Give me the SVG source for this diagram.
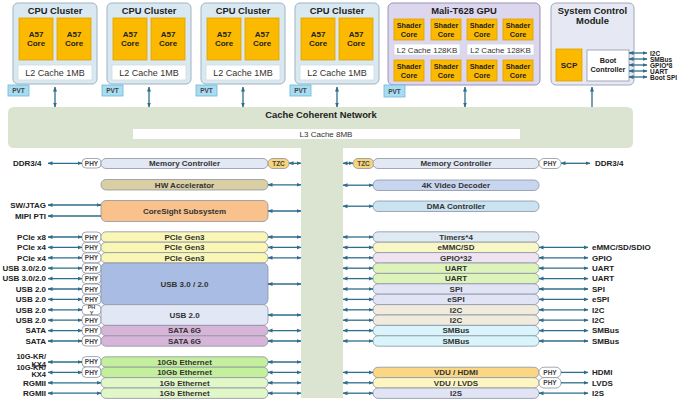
<svg xmlns="http://www.w3.org/2000/svg" width="680" height="401" viewBox="0 0 680 401">
<defs>
<marker id="ah" viewBox="0 0 10 10" refX="9" refY="5" markerWidth="5" markerHeight="5" orient="auto-start-reverse" markerUnits="userSpaceOnUse"><path d="M0,1 L10,5 L0,9 z" fill="#2f6d8a"/></marker>
<style>
text{font-family:"Liberation Sans",Arial,sans-serif;fill:#222}
.t{font-weight:bold;font-size:9.4px;text-anchor:middle}
.c{font-weight:bold;font-size:8px;text-anchor:middle}
.s{font-weight:bold;font-size:7.3px;text-anchor:middle}
.l2{font-size:9px;text-anchor:middle;fill:#333}
.l2g{font-size:8px;text-anchor:middle;fill:#333}
.lbl{font-weight:bold;font-size:8px}
.kr{font-size:7.5px}
.sl{font-weight:bold;font-size:6.5px}
.le{text-anchor:end}
.bt{font-weight:bold;font-size:8px;text-anchor:middle;fill:#333}
.pt{font-weight:bold;font-size:6.5px;text-anchor:middle;fill:#444}
.clu{fill:#dae9f1;stroke:#9fb3c0;stroke-width:1}
.core{fill:#fbba00;stroke:#dca000;stroke-width:0.8}
.cache{fill:#fff;stroke:#d0dbe2;stroke-width:0.8}
.pvt{fill:#a8dcf2;stroke:#6cb6d6;stroke-width:0.8}
.box{stroke:#8c93a3;stroke-width:0.8}
.phy{fill:#fff;stroke:#8c93a3;stroke-width:0.8}
.ar{stroke:#2f6d8a;stroke-width:1.3;fill:none;marker-start:url(#ah);marker-end:url(#ah)}
.ar1{stroke:#2f6d8a;stroke-width:1.3;fill:none;marker-end:url(#ah)}
</style>
</defs>
<rect width="680" height="401" fill="#fff"/>

<!-- Cache coherent network -->
<g id="ccn">
<path d="M14,107 H627 Q633,107 633,113 V142 Q633,148 627,148 H343 V398 H301 V148 H14 Q8,148 8,142 V113 Q8,107 14,107 Z" fill="#dbe4d1"/>
<text class="t" x="321" y="117.5">Cache Coherent Network</text>
<rect x="133" y="129" width="387" height="10" fill="#fff"/>
<text class="l2g" x="326" y="137">L3 Cache 8MB</text>
</g>

<!-- CPU clusters -->
<g id="cpu1">
<rect class="clu" x="13" y="3" width="84" height="81" rx="5"/>
<text class="t" x="55" y="14">CPU Cluster</text>
<rect class="core" x="19" y="18" width="34" height="42"/><text class="c" x="36" y="37">A57</text><text class="c" x="36" y="46">Core</text>
<rect class="core" x="57" y="18" width="34" height="42"/><text class="c" x="74" y="37">A57</text><text class="c" x="74" y="46">Core</text>
<rect class="cache" x="18" y="65" width="74" height="15"/><text class="l2" x="55" y="75.5">L2 Cache 1MB</text>
<rect class="pvt" x="8" y="85" width="21" height="11"/><text class="pt" x="18.5" y="93">PVT</text>
</g>
<g id="cpu2">
<rect class="clu" x="107" y="3" width="84" height="81" rx="5"/>
<text class="t" x="149" y="14">CPU Cluster</text>
<rect class="core" x="113" y="18" width="34" height="42"/><text class="c" x="130" y="37">A57</text><text class="c" x="130" y="46">Core</text>
<rect class="core" x="151" y="18" width="34" height="42"/><text class="c" x="168" y="37">A57</text><text class="c" x="168" y="46">Core</text>
<rect class="cache" x="112" y="65" width="74" height="15"/><text class="l2" x="149" y="75.5">L2 Cache 1MB</text>
<rect class="pvt" x="102" y="85" width="21" height="11"/><text class="pt" x="112.5" y="93">PVT</text>
</g>
<g id="cpu3">
<rect class="clu" x="201" y="3" width="84" height="81" rx="5"/>
<text class="t" x="243" y="14">CPU Cluster</text>
<rect class="core" x="207" y="18" width="34" height="42"/><text class="c" x="224" y="37">A57</text><text class="c" x="224" y="46">Core</text>
<rect class="core" x="245" y="18" width="34" height="42"/><text class="c" x="262" y="37">A57</text><text class="c" x="262" y="46">Core</text>
<rect class="cache" x="206" y="65" width="74" height="15"/><text class="l2" x="243" y="75.5">L2 Cache 1MB</text>
<rect class="pvt" x="196" y="85" width="21" height="11"/><text class="pt" x="206.5" y="93">PVT</text>
</g>
<g id="cpu4">
<rect class="clu" x="295" y="3" width="84" height="81" rx="5"/>
<text class="t" x="337" y="14">CPU Cluster</text>
<rect class="core" x="301" y="18" width="34" height="42"/><text class="c" x="318" y="37">A57</text><text class="c" x="318" y="46">Core</text>
<rect class="core" x="339" y="18" width="34" height="42"/><text class="c" x="356" y="37">A57</text><text class="c" x="356" y="46">Core</text>
<rect class="cache" x="300" y="65" width="74" height="15"/><text class="l2" x="337" y="75.5">L2 Cache 1MB</text>
<rect class="pvt" x="290" y="85" width="21" height="11"/><text class="pt" x="300.5" y="93">PVT</text>
</g>

<!-- GPU -->
<g id="gpu">
<rect x="388" y="3" width="152" height="82" rx="5" fill="#dcd6ee" stroke="#9a93b5" stroke-width="1"/>
<text class="t" x="464" y="14">Mali-T628 GPU</text>
<rect class="core" x="394" y="19" width="30" height="21"/><text class="s" x="409" y="28">Shader</text><text class="s" x="409" y="36.5">Core</text>
<rect class="core" x="431" y="19" width="30" height="21"/><text class="s" x="446" y="28">Shader</text><text class="s" x="446" y="36.5">Core</text>
<rect class="core" x="467" y="19" width="30" height="21"/><text class="s" x="482" y="28">Shader</text><text class="s" x="482" y="36.5">Core</text>
<rect class="core" x="503" y="19" width="30" height="21"/><text class="s" x="518" y="28">Shader</text><text class="s" x="518" y="36.5">Core</text>
<rect class="cache" x="394" y="44" width="66" height="11"/><text class="l2g" x="427" y="52.5">L2 Cache 128KB</text>
<rect class="cache" x="467" y="44" width="67" height="11"/><text class="l2g" x="500.5" y="52.5">L2 Cache 128KB</text>
<rect class="core" x="394" y="60" width="30" height="21"/><text class="s" x="409" y="69">Shader</text><text class="s" x="409" y="77.5">Core</text>
<rect class="core" x="431" y="60" width="30" height="21"/><text class="s" x="446" y="69">Shader</text><text class="s" x="446" y="77.5">Core</text>
<rect class="core" x="467" y="60" width="30" height="21"/><text class="s" x="482" y="69">Shader</text><text class="s" x="482" y="77.5">Core</text>
<rect class="core" x="503" y="60" width="30" height="21"/><text class="s" x="518" y="69">Shader</text><text class="s" x="518" y="77.5">Core</text>
<rect class="pvt" x="384" y="85" width="21" height="12"/><text class="pt" x="394.5" y="93.5">PVT</text>
</g>

<!-- System control module -->
<g id="scm">
<rect x="551" y="3" width="83" height="82" rx="5" fill="#e6e9f3" stroke="#a3a8bb" stroke-width="1"/>
<text class="t" x="592.5" y="13.5">System Control</text>
<text class="t" x="592.5" y="23.5">Module</text>
<rect class="core" x="556" y="49" width="26" height="32"/><text class="c" x="569" y="68">SCP</text>
<rect x="587" y="50" width="42" height="31" fill="#fff" stroke="#8c93a3" stroke-width="0.8"/>
<text class="s" x="608" y="63">Boot</text><text class="s" x="608" y="71.5">Controller</text>
<text class="sl" x="650" y="55.5">I2C</text>
<text class="sl" x="650" y="61.5">SMBus</text>
<text class="sl" x="650" y="67.5">GPIO*8</text>
<text class="sl" x="650" y="73.5">UART</text>
<text class="sl" x="650" y="79.5">Boot SPI</text>
</g>

<!-- Left side blocks -->
<g id="left-mc">
<text class="lbl" x="13" y="166">DDR3/4</text>
<rect class="phy" x="82" y="158.5" width="19" height="9.5" rx="4"/><text class="pt" x="91.5" y="165.5">PHY</text>
<rect class="box" x="101" y="158.5" width="167" height="10" rx="5" fill="#e3e8f5"/><text class="bt" x="184.5" y="166.2">Memory Controller</text>
<rect class="box" x="268" y="158.5" width="21" height="10" rx="5" fill="#f8d47a"/><text class="pt" x="278.5" y="166">TZC</text>
</g>
<g id="hwacc">
<rect class="box" x="101" y="179.5" width="167" height="10.5" rx="5" fill="#d9cfa2"/><text class="bt" x="184.5" y="187.7">HW Accelerator</text>
</g>
<g id="coresight">
<text class="lbl le" x="46" y="208">SW/JTAG</text>
<text class="lbl le" x="46" y="219">MIPI PTI</text>
<rect class="box" x="101" y="200.5" width="167" height="21" rx="5" fill="#f9c28d"/><text class="bt" x="184.5" y="213.7">CoreSight Subsystem</text>
</g>
<g id="pcie">
<text class="lbl le" x="46" y="239.8">PCIe x8</text>
<text class="lbl le" x="46" y="250.2">PCIe x4</text>
<text class="lbl le" x="46" y="260.6">PCIe x4</text>
<rect class="phy" x="82" y="232" width="19" height="10" rx="4"/><text class="pt" x="91.5" y="239.5">PHY</text>
<rect class="phy" x="82" y="242.4" width="19" height="10" rx="4"/><text class="pt" x="91.5" y="249.9">PHY</text>
<rect class="phy" x="82" y="252.8" width="19" height="10" rx="4"/><text class="pt" x="91.5" y="260.3">PHY</text>
<rect class="box" x="101" y="231.8" width="167" height="10.4" rx="5" fill="#f9f6b6"/><text class="bt" x="184.5" y="239.8">PCIe Gen3</text>
<rect class="box" x="101" y="242.2" width="167" height="10.4" rx="5" fill="#f9f6b6"/><text class="bt" x="184.5" y="250.2">PCIe Gen3</text>
<rect class="box" x="101" y="252.6" width="167" height="10.4" rx="5" fill="#f9f6b6"/><text class="bt" x="184.5" y="260.6">PCIe Gen3</text>
</g>
<g id="usb">
<text class="lbl le" x="46" y="271">USB 3.0/2.0</text>
<text class="lbl le" x="46" y="281.4">USB 3.0/2.0</text>
<text class="lbl le" x="46" y="291.8">USB 2.0</text>
<text class="lbl le" x="46" y="302.2">USB 2.0</text>
<text class="lbl le" x="46" y="312.6">USB 2.0</text>
<text class="lbl le" x="46" y="323">USB 2.0</text>
<rect class="phy" x="82" y="263.2" width="19" height="10" rx="4"/><text class="pt" x="91.5" y="270.7">PHY</text>
<rect class="phy" x="82" y="273.6" width="19" height="10" rx="4"/><text class="pt" x="91.5" y="281.1">PHY</text>
<rect class="phy" x="82" y="284" width="19" height="10" rx="4"/><text class="pt" x="91.5" y="291.5">PHY</text>
<rect class="phy" x="82" y="294.4" width="19" height="10" rx="4"/><text class="pt" x="91.5" y="301.9">PHY</text>
<rect class="phy" x="82" y="304.8" width="19" height="10" rx="4"/><text class="pt" x="91.5" y="309.3" style="font-size:5.5px">PH</text><text class="pt" x="91.5" y="314.5" style="font-size:5.5px">Y</text>
<rect class="phy" x="82" y="315.2" width="19" height="10" rx="4"/><text class="pt" x="91.5" y="322.7">PHY</text>
<rect class="box" x="101" y="263" width="167" height="41.6" rx="5" fill="#a9bce4"/><text class="bt" x="184.5" y="286.8">USB 3.0 / 2.0</text>
<rect class="box" x="101" y="304.6" width="167" height="20.8" rx="5" fill="#e2e7f5"/><text class="bt" x="184.5" y="317.8">USB 2.0</text>
</g>
<g id="sata">
<text class="lbl le" x="46" y="333.4">SATA</text>
<text class="lbl le" x="46" y="343.8">SATA</text>
<rect class="phy" x="82" y="325.6" width="19" height="10" rx="4"/><text class="pt" x="91.5" y="333.1">PHY</text>
<rect class="phy" x="82" y="336" width="19" height="10" rx="4"/><text class="pt" x="91.5" y="343.5">PHY</text>
<rect class="box" x="101" y="325.4" width="167" height="10.4" rx="5" fill="#d7b5d9"/><text class="bt" x="184.5" y="333.4">SATA 6G</text>
<rect class="box" x="101" y="335.8" width="167" height="10.4" rx="5" fill="#d7b5d9"/><text class="bt" x="184.5" y="343.8">SATA 6G</text>
</g>
<g id="ethernet">
<text class="lbl le kr" x="46" y="359.3">10G-KR/</text>
<text class="lbl le kr" x="46" y="367">KX4</text>
<text class="lbl le kr" x="46" y="369.5">10G-KR/</text>
<text class="lbl le kr" x="46" y="377.3">KX4</text>
<text class="lbl le" x="46" y="385.6">RGMII</text>
<text class="lbl le" x="46" y="396">RGMII</text>
<rect class="phy" x="82" y="356.6" width="19" height="10.4" rx="4"/><text class="pt" x="91.5" y="364.3">PHY</text>
<rect class="phy" x="82" y="367" width="19" height="10.4" rx="4"/><text class="pt" x="91.5" y="374.7">PHY</text>
<rect class="box" x="101" y="356.8" width="167" height="10.4" rx="5" fill="#c4ef9c"/><text class="bt" x="184.5" y="364.8">10Gb Ethernet</text>
<rect class="box" x="101" y="367.2" width="167" height="10.4" rx="5" fill="#c4ef9c"/><text class="bt" x="184.5" y="375.2">10Gb Ethernet</text>
<rect class="box" x="101" y="377.6" width="167" height="10.4" rx="5" fill="#e2f7c8"/><text class="bt" x="184.5" y="385.6">1Gb Ethernet</text>
<rect class="box" x="101" y="388" width="167" height="10.4" rx="5" fill="#e2f7c8"/><text class="bt" x="184.5" y="396">1Gb Ethernet</text>
</g>

<!-- Right side blocks -->
<g id="right-mc">
<rect class="box" x="353" y="158.5" width="21" height="10" rx="5" fill="#f8d47a"/><text class="pt" x="363.5" y="166">TZC</text>
<rect class="box" x="373" y="158.5" width="166" height="10" rx="5" fill="#e3e8f5"/><text class="bt" x="456" y="166.2">Memory Controller</text>
<rect class="phy" x="539" y="158.5" width="22" height="10" rx="5"/><text class="pt" x="550" y="166">PHY</text>
<text class="lbl" x="595" y="166">DDR3/4</text>
</g>
<g id="video">
<rect class="box" x="373" y="180" width="166" height="10.5" rx="5" fill="#c8d5ef"/><text class="bt" x="456" y="188.2">4K Video Decoder</text>
</g>
<g id="dma">
<rect class="box" x="373" y="201" width="166" height="10.5" rx="5" fill="#c9e3f0"/><text class="bt" x="456" y="209.2">DMA Controller</text>
</g>
<g id="periph">
<rect class="box" x="373" y="231.8" width="166" height="10.4" rx="5" fill="#dfeaf4"/><text class="bt" x="456" y="239.8">Timers*4</text>
<rect class="box" x="373" y="242.2" width="166" height="10.4" rx="5" fill="#f8f7c6"/><text class="bt" x="456" y="250.2">eMMC/SD</text>
<rect class="box" x="373" y="252.6" width="166" height="10.4" rx="5" fill="#efe3f1"/><text class="bt" x="456" y="260.6">GPIO*32</text>
<rect class="box" x="373" y="263" width="166" height="10.4" rx="5" fill="#ddf3ba"/><text class="bt" x="456" y="271">UART</text>
<rect class="box" x="373" y="273.4" width="166" height="10.4" rx="5" fill="#ddf3ba"/><text class="bt" x="456" y="281.4">UART</text>
<rect class="box" x="373" y="283.8" width="166" height="10.4" rx="5" fill="#e0e4f4"/><text class="bt" x="456" y="291.8">SPI</text>
<rect class="box" x="373" y="294.2" width="166" height="10.4" rx="5" fill="#e0e4f4"/><text class="bt" x="456" y="302.2">eSPI</text>
<rect class="box" x="373" y="304.6" width="166" height="10.4" rx="5" fill="#f0ebdc"/><text class="bt" x="456" y="312.6">I2C</text>
<rect class="box" x="373" y="315" width="166" height="10.4" rx="5" fill="#f0ebdc"/><text class="bt" x="456" y="323">I2C</text>
<rect class="box" x="373" y="325.4" width="166" height="10.4" rx="5" fill="#d9f5fb"/><text class="bt" x="456" y="333.4">SMBus</text>
<rect class="box" x="373" y="335.8" width="166" height="10.4" rx="5" fill="#d9f5fb"/><text class="bt" x="456" y="343.8">SMBus</text>
<text class="lbl" x="592" y="250.2">eMMC/SD/SDIO</text>
<text class="lbl" x="592" y="260.6">GPIO</text>
<text class="lbl" x="592" y="271">UART</text>
<text class="lbl" x="592" y="281.4">UART</text>
<text class="lbl" x="592" y="291.8">SPI</text>
<text class="lbl" x="592" y="302.2">eSPI</text>
<text class="lbl" x="592" y="312.6">I2C</text>
<text class="lbl" x="592" y="323">I2C</text>
<text class="lbl" x="592" y="333.4">SMBus</text>
<text class="lbl" x="592" y="343.8">SMBus</text>
</g>
<g id="display">
<rect class="box" x="373" y="367.2" width="166" height="10.4" rx="5" fill="#fbd784"/><text class="bt" x="456" y="375.2">VDU / HDMI</text>
<rect class="box" x="373" y="377.6" width="166" height="10.4" rx="5" fill="#fdf6c2"/><text class="bt" x="456" y="385.6">VDU / LVDS</text>
<rect class="box" x="373" y="388" width="166" height="10.4" rx="5" fill="#e0e4f4"/><text class="bt" x="456" y="396">I2S</text>
<rect class="phy" x="539" y="367.2" width="22" height="10.4" rx="5"/><text class="pt" x="550" y="374.9">PHY</text>
<rect class="phy" x="539" y="377.6" width="22" height="10.4" rx="5"/><text class="pt" x="550" y="385.3">PHY</text>
<text class="lbl" x="592" y="375.2">HDMI</text>
<text class="lbl" x="592" y="385.6">LVDS</text>
<text class="lbl" x="592" y="396">I2S</text>
</g>

<!-- Connectors -->
<g id="connectors">
<line class="ar" x1="55" y1="87" x2="55" y2="107"/>
<line class="ar" x1="149" y1="87" x2="149" y2="107"/>
<line class="ar" x1="243" y1="87" x2="243" y2="107"/>
<line class="ar" x1="337" y1="87" x2="337" y2="107"/>
<line class="ar" x1="465" y1="87" x2="465" y2="107"/>
<line class="ar1" x1="592" y1="107" x2="592" y2="87"/>
<line class="ar" x1="629" y1="53" x2="647" y2="53"/>
<line class="ar" x1="629" y1="59" x2="647" y2="59"/>
<line class="ar" x1="629" y1="65" x2="647" y2="65"/>
<line class="ar" x1="629" y1="71" x2="647" y2="71"/>
<line class="ar" x1="629" y1="77" x2="647" y2="77"/>
<!-- left -->
<line class="ar" x1="48" y1="163.3" x2="82" y2="163.3"/>
<line class="ar" x1="289" y1="163.3" x2="301" y2="163.3"/>
<line class="ar" x1="268" y1="184.8" x2="301" y2="184.8"/>
<line class="ar" x1="48" y1="205" x2="101" y2="205"/>
<line class="ar1" x1="101" y1="216" x2="48" y2="216"/>
<line class="ar" x1="268" y1="211" x2="301" y2="211"/>
<line class="ar" x1="48" y1="237" x2="82" y2="237"/>
<line class="ar" x1="48" y1="247.4" x2="82" y2="247.4"/>
<line class="ar" x1="48" y1="257.8" x2="82" y2="257.8"/>
<line class="ar" x1="48" y1="268.2" x2="82" y2="268.2"/>
<line class="ar" x1="48" y1="278.6" x2="82" y2="278.6"/>
<line class="ar" x1="48" y1="289" x2="82" y2="289"/>
<line class="ar" x1="48" y1="299.4" x2="82" y2="299.4"/>
<line class="ar" x1="48" y1="309.8" x2="82" y2="309.8"/>
<line class="ar" x1="48" y1="320.2" x2="82" y2="320.2"/>
<line class="ar" x1="48" y1="330.6" x2="82" y2="330.6"/>
<line class="ar" x1="48" y1="341" x2="82" y2="341"/>
<line class="ar" x1="48" y1="362" x2="82" y2="362"/>
<line class="ar" x1="48" y1="372.4" x2="82" y2="372.4"/>
<line class="ar" x1="48" y1="382.8" x2="101" y2="382.8"/>
<line class="ar" x1="48" y1="393.2" x2="101" y2="393.2"/>
<line class="ar" x1="268" y1="237" x2="301" y2="237"/>
<line class="ar" x1="268" y1="247.4" x2="301" y2="247.4"/>
<line class="ar" x1="268" y1="257.8" x2="301" y2="257.8"/>
<line class="ar" x1="268" y1="284" x2="301" y2="284"/>
<line class="ar" x1="268" y1="315" x2="301" y2="315"/>
<line class="ar" x1="268" y1="330.6" x2="301" y2="330.6"/>
<line class="ar" x1="268" y1="341" x2="301" y2="341"/>
<line class="ar" x1="268" y1="362" x2="301" y2="362"/>
<line class="ar" x1="268" y1="372.4" x2="301" y2="372.4"/>
<line class="ar" x1="268" y1="382.8" x2="301" y2="382.8"/>
<line class="ar" x1="268" y1="393.2" x2="301" y2="393.2"/>
<!-- right -->
<line class="ar" x1="343" y1="163.3" x2="353" y2="163.3"/>
<line class="ar" x1="561" y1="163.3" x2="590" y2="163.3"/>
<line class="ar" x1="343" y1="185.2" x2="373" y2="185.2"/>
<line class="ar" x1="343" y1="206.2" x2="373" y2="206.2"/>
<line class="ar" x1="343" y1="237" x2="373" y2="237"/>
<line class="ar" x1="343" y1="247.4" x2="373" y2="247.4"/>
<line class="ar" x1="343" y1="257.8" x2="373" y2="257.8"/>
<line class="ar" x1="343" y1="268.2" x2="373" y2="268.2"/>
<line class="ar" x1="343" y1="278.6" x2="373" y2="278.6"/>
<line class="ar" x1="343" y1="289" x2="373" y2="289"/>
<line class="ar" x1="343" y1="299.4" x2="373" y2="299.4"/>
<line class="ar" x1="343" y1="309.8" x2="373" y2="309.8"/>
<line class="ar" x1="343" y1="320.2" x2="373" y2="320.2"/>
<line class="ar" x1="343" y1="330.6" x2="373" y2="330.6"/>
<line class="ar" x1="343" y1="341" x2="373" y2="341"/>
<line class="ar" x1="343" y1="372.4" x2="373" y2="372.4"/>
<line class="ar" x1="343" y1="382.8" x2="373" y2="382.8"/>
<line class="ar" x1="343" y1="393.2" x2="373" y2="393.2"/>
<line class="ar" x1="539" y1="247.4" x2="588" y2="247.4"/>
<line class="ar" x1="539" y1="257.8" x2="588" y2="257.8"/>
<line class="ar" x1="539" y1="268.2" x2="588" y2="268.2"/>
<line class="ar" x1="539" y1="278.6" x2="588" y2="278.6"/>
<line class="ar" x1="539" y1="289" x2="588" y2="289"/>
<line class="ar" x1="539" y1="299.4" x2="588" y2="299.4"/>
<line class="ar" x1="539" y1="309.8" x2="588" y2="309.8"/>
<line class="ar" x1="539" y1="320.2" x2="588" y2="320.2"/>
<line class="ar" x1="539" y1="330.6" x2="588" y2="330.6"/>
<line class="ar" x1="539" y1="341" x2="588" y2="341"/>
<line class="ar1" x1="561" y1="372.4" x2="588" y2="372.4"/>
<line class="ar1" x1="561" y1="382.8" x2="588" y2="382.8"/>
<line class="ar" x1="539" y1="393.2" x2="588" y2="393.2"/>
</g>
</svg>
